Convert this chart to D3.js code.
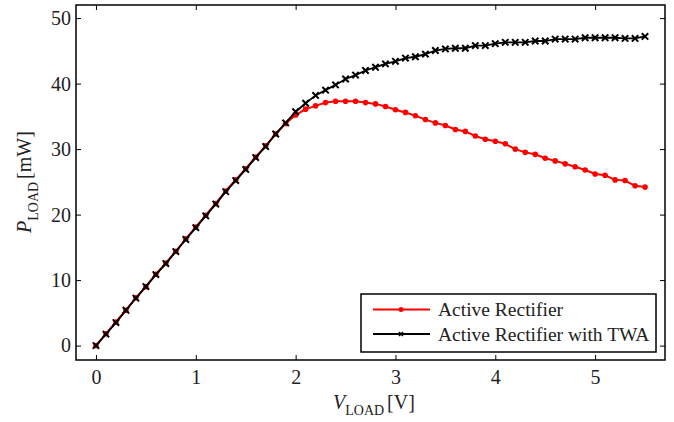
<!DOCTYPE html>
<html>
<head>
<meta charset="utf-8">
<script src="https://cdn.jsdelivr.net/npm/d3@7"></script>
<style>
  body { margin: 0; background: #fff; }
  text { font-family: "Liberation Serif", "DejaVu Serif", serif; }
</style>
</head>
<body>
<div id="chart"></div>
<script>
// load voltage [V]
var vLoad = [0.0, 0.1, 0.2, 0.3, 0.4, 0.5, 0.6, 0.7, 0.8, 0.9,
             1.0, 1.1, 1.2, 1.3, 1.4, 1.5, 1.6, 1.7, 1.8, 1.9,
             2.0, 2.1, 2.2, 2.3, 2.4, 2.5, 2.6, 2.7, 2.8, 2.9,
             3.0, 3.1, 3.2, 3.3, 3.4, 3.5, 3.6, 3.7, 3.8, 3.9,
             4.0, 4.1, 4.2, 4.3, 4.4, 4.5, 4.6, 4.7, 4.8, 4.9,
             5.0, 5.1, 5.2, 5.3, 5.4, 5.5];

// P_LOAD [mW], active rectifier
var pActive = [0.0, 1.8, 3.6, 5.4, 7.3, 9.0, 10.9, 12.6, 14.4, 16.3,
               18.1, 19.9, 21.7, 23.6, 25.3, 27.0, 28.8, 30.5, 32.3, 33.9,
               35.2, 36.1, 36.6, 37.1, 37.3, 37.3, 37.3, 37.1, 36.9, 36.5,
               36.0, 35.6, 35.1, 34.5, 34.0, 33.6, 33.0, 32.7, 32.0, 31.5,
               31.2, 30.8, 30.0, 29.5, 29.2, 28.6, 28.2, 27.75, 27.3, 26.8,
               26.2, 26.0, 25.3, 25.2, 24.4, 24.2];

// P_LOAD [mW], active rectifier with TWA
var pTwa = [0.0, 1.74, 3.51, 5.4, 7.24, 9.01, 10.84, 12.52, 14.36, 16.2,
            18.0, 19.8, 21.6, 23.5, 25.2, 26.9, 28.7, 30.4, 32.3, 34.0,
            35.7, 37.0, 38.2, 39.0, 39.8, 40.7, 41.3, 42.0, 42.5, 43.0,
            43.4, 43.9, 44.1, 44.5, 45.05, 45.3, 45.4, 45.4, 45.8, 45.8,
            46.1, 46.3, 46.3, 46.3, 46.5, 46.5, 46.8, 46.8, 46.8, 47.0,
            47.0, 47.0, 47.0, 46.9, 46.9, 47.2];

var xTicks = [0, 1, 2, 3, 4, 5];
var yTicks = [0, 10, 20, 30, 40, 50];
var seriesNames = ["Active Rectifier", "Active Rectifier with TWA"];

function init(){
    var w = 674;
    var h = 422;
    var left = 76, right = 665, top = 5, bottom = 360;

    var xScale = d3.scaleLinear()
                    .domain([-0.2, 5.7])
                    .range([left, right]);

    var yScale = d3.scaleLinear()
                    .domain([-2.2, 52])
                    .range([bottom, top]);

    var svg = d3.select("#chart")
                .append("svg")
                .attr("width", w)
                .attr("height", h);

    // axes, ticks pointing inward on all four sides
    svg.append("g")
        .attr("transform", "translate(0," + bottom + ")")
        .call(d3.axisBottom(xScale).tickValues(xTicks).tickFormat(d3.format("d")).tickSize(-5).tickPadding(10));
    svg.append("g")
        .attr("transform", "translate(0," + top + ")")
        .call(d3.axisTop(xScale).tickValues(xTicks).tickSize(-5).tickFormat(""));
    svg.append("g")
        .attr("transform", "translate(" + left + ",0)")
        .call(d3.axisLeft(yScale).tickValues(yTicks).tickSize(-5).tickPadding(5));
    svg.append("g")
        .attr("transform", "translate(" + right + ",0)")
        .call(d3.axisRight(yScale).tickValues(yTicks).tickSize(-5).tickFormat(""));

    svg.selectAll(".domain").remove();
    svg.selectAll(".tick line").attr("stroke", "#000").attr("stroke-width", 1);
    svg.selectAll(".tick text")
        .attr("font-family", "Liberation Serif, serif")
        .attr("font-size", "20px")
        .attr("fill", "#222");

    svg.append("rect")
        .attr("x", left)
        .attr("y", top)
        .attr("width", right - left)
        .attr("height", bottom - top)
        .attr("fill", "none")
        .attr("stroke", "#000")
        .attr("stroke-width", 1.5);

    var redData = vLoad.map(function(v, i){ return {v: v, p: pActive[i]}; });
    var blackData = vLoad.map(function(v, i){ return {v: v, p: pTwa[i]}; });

    var line = d3.line()
                .x(function(d) { return xScale(d.v); })
                .y(function(d) { return yScale(d.p); });

    // red series
    svg.append("path")
        .datum(redData)
        .attr("d", line)
        .attr("fill", "none")
        .attr("stroke", "#ff0000")
        .attr("stroke-width", 2);

    svg.selectAll(".dot")
        .data(redData)
        .enter()
        .append("circle")
        .attr("class", "dot")
        .attr("cx", function(d) { return xScale(d.v); })
        .attr("cy", function(d) { return yScale(d.p); })
        .attr("r", 2.8)
        .attr("fill", "#ff0000");

    // black series
    svg.append("path")
        .datum(blackData)
        .attr("d", line)
        .attr("fill", "none")
        .attr("stroke", "#000")
        .attr("stroke-width", 1.8);

    svg.selectAll(".xmark")
        .data(blackData)
        .enter()
        .append("path")
        .attr("class", "xmark")
        .attr("d", "M-3.2,-3.2L3.2,3.2M-3.2,3.2L3.2,-3.2")
        .attr("transform", function(d) { return "translate(" + xScale(d.v) + "," + yScale(d.p) + ")"; })
        .attr("stroke", "#000")
        .attr("stroke-width", 2)
        .attr("fill", "none");

    // legend
    var legend = svg.append("g");
    legend.append("rect")
        .attr("x", 361)
        .attr("y", 294)
        .attr("width", 295)
        .attr("height", 58)
        .attr("fill", "#fff")
        .attr("stroke", "#000")
        .attr("stroke-width", 1.5);

    var rowY = [309.5, 334];
    var colors = ["#ff0000", "#000"];
    seriesNames.forEach(function(name, i){
        legend.append("line")
            .attr("x1", 373).attr("x2", 430)
            .attr("y1", rowY[i]).attr("y2", rowY[i])
            .attr("stroke", colors[i])
            .attr("stroke-width", i == 0 ? 2 : 1.8);
        if (i == 0) {
            legend.append("circle")
                .attr("cx", 401).attr("cy", rowY[i])
                .attr("r", 2.5).attr("fill", colors[i]);
        } else {
            legend.append("path")
                .attr("d", "M-2,-2L2,2M-2,2L2,-2")
                .attr("transform", "translate(401," + rowY[i] + ")")
                .attr("stroke", "#000").attr("stroke-width", 1.5);
        }
        legend.append("text")
            .attr("x", 438)
            .attr("y", rowY[i])
            .attr("dy", "0.35em")
            .attr("font-size", "19.5px")
            .attr("fill", "#222")
            .text(name);
    });

    // x label
    var xl = svg.append("text")
        .attr("x", 333)
        .attr("y", 409)
        .attr("font-size", "20px")
        .attr("fill", "#222");
    xl.append("tspan").attr("font-style", "italic").text("V");
    xl.append("tspan").attr("font-size", "14px").attr("dy", 6).text("LOAD");
    xl.append("tspan").attr("dy", -6).attr("dx", 3).text("[V]");

    // y label
    var yl = svg.append("text")
        .attr("transform", "translate(31,233) rotate(-90)")
        .attr("font-size", "20px")
        .attr("fill", "#222");
    yl.append("tspan").attr("font-style", "italic").text("P");
    yl.append("tspan").attr("font-size", "14px").attr("dy", 7).text("LOAD");
    yl.append("tspan").attr("dy", -7).attr("dx", 3).text("[mW]");
}
window.onload = init;
</script>
</body>
</html>
